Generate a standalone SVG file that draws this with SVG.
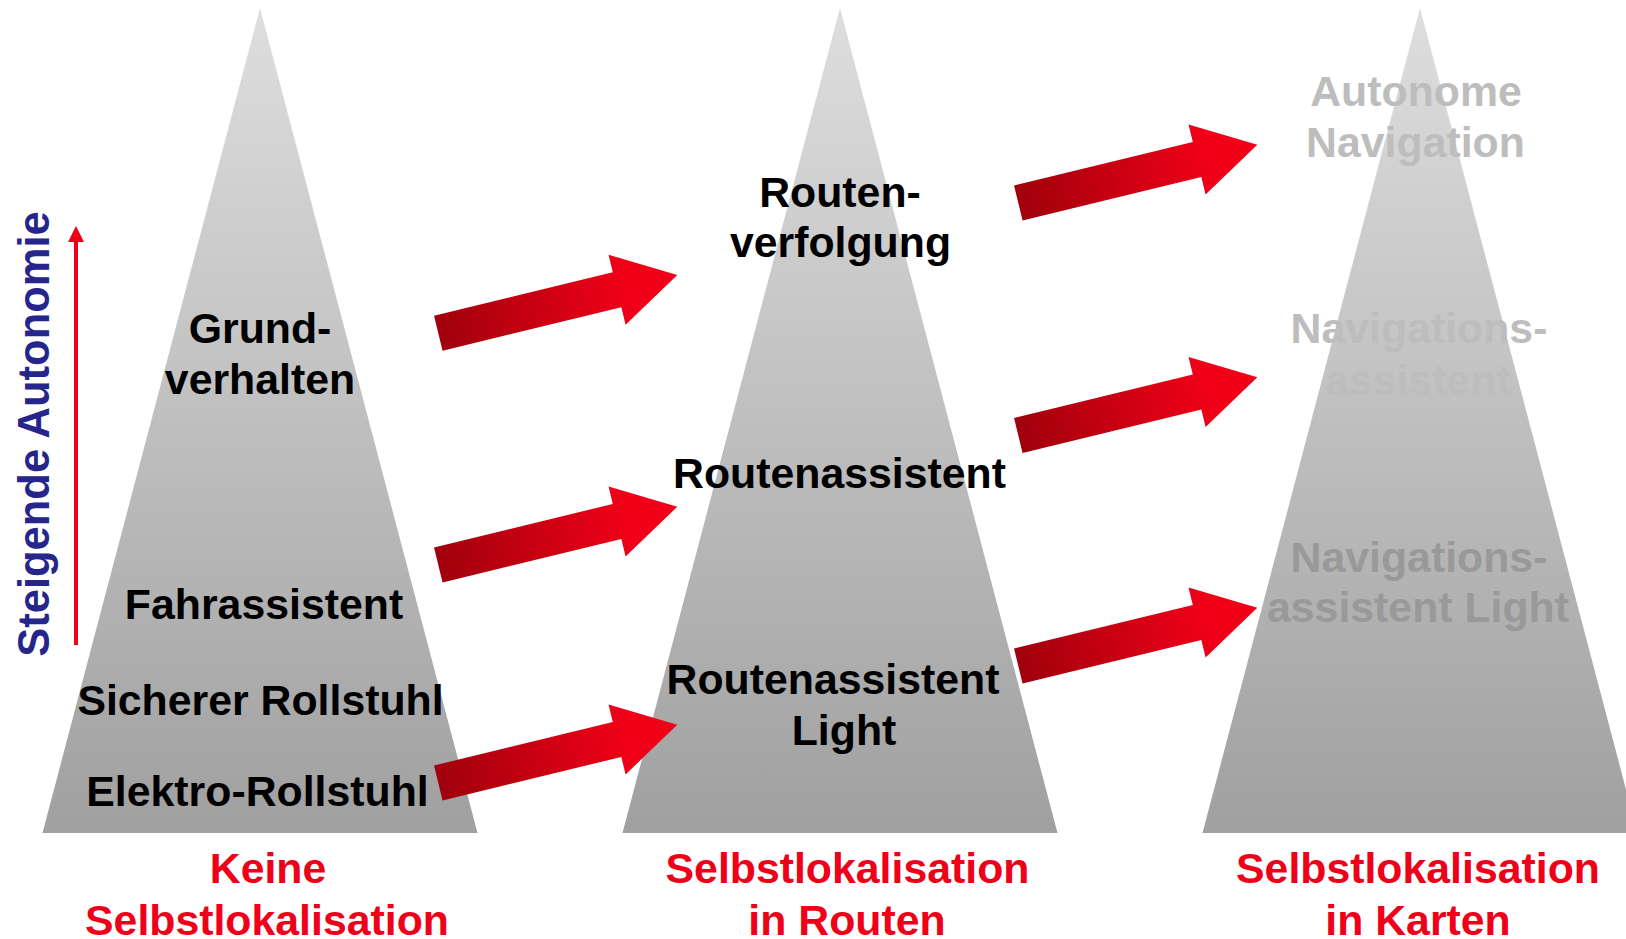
<svg xmlns="http://www.w3.org/2000/svg" width="1626" height="939" viewBox="0 0 1626 939">
  <defs>
    <linearGradient id="pyramidFill" x1="0" y1="0" x2="0" y2="1">
      <stop offset="0" stop-color="#dedede"/>
      <stop offset="1" stop-color="#a0a0a0"/>
    </linearGradient>
    <linearGradient id="arrowFill" gradientUnits="userSpaceOnUse" x1="0" y1="0" x2="200" y2="0">
      <stop offset="0" stop-color="#a0000c"/>
      <stop offset="1" stop-color="#f20018"/>
    </linearGradient>
    <!-- block arrow: tail centre at origin, pointing along +x -->
    <path id="blockArrow" d="M0,-18 H184 V-36 L246,0 L184,36 V18 H0 Z"/>
  </defs>
  <style>
    .pyr { fill: url(#pyramidFill); }
    .lbl { font-family: "Liberation Sans", Arial, sans-serif; font-weight: bold; font-size: 42.8px; text-anchor: middle; fill: #000; }
    .foot { fill: #f00018; }
    .future { fill: #bdbdbd; }
    .futureDark { fill: #999999; }
    .axisText { font-family: "Liberation Sans", Arial, sans-serif; font-weight: bold; font-size: 43.5px; text-anchor: middle; fill: #25258c; }
    .arrow { fill: url(#arrowFill); }
  </style>
  <rect width="1626" height="939" fill="#ffffff"/>

  <!-- autonomy axis -->
  <g id="axis">
    <line x1="76" y1="645" x2="76" y2="240" stroke="#f00018" stroke-width="4"/>
    <polygon points="76,226 84,242 68,242" fill="#f00018"/>
    <text class="axisText" transform="translate(49,434) rotate(-90)">Steigende Autonomie</text>
  </g>

  <!-- pyramid 1: no self-localisation -->
  <g id="pyramid-keine">
    <polygon class="pyr" points="260,8 477.5,833 42.5,833"/>
  </g>
  <!-- pyramid 2: localisation along routes -->
  <g id="pyramid-routen">
    <polygon class="pyr" points="840,8 1057.5,833 622.5,833"/>
  </g>
  <!-- pyramid 3: localisation in maps -->
  <g id="pyramid-karten">
    <polygon class="pyr" points="1420,8 1637.5,833 1202.5,833"/>
  </g>

  <!-- transition arrows -->
  <g id="connectors">
    <use href="#blockArrow" class="arrow" transform="translate(438.3,333.3) rotate(-13.7)"/>
    <use href="#blockArrow" class="arrow" transform="translate(438.3,565) rotate(-13.7)"/>
    <use href="#blockArrow" class="arrow" transform="translate(438.3,783) rotate(-13.7)"/>
    <use href="#blockArrow" class="arrow" transform="translate(1018.3,203) rotate(-13.7)"/>
    <use href="#blockArrow" class="arrow" transform="translate(1018.3,435.5) rotate(-13.7)"/>
    <use href="#blockArrow" class="arrow" transform="translate(1018.3,666) rotate(-13.7)"/>
  </g>

  <!-- level labels, pyramid 1 -->
  <g id="labels-keine">
    <text class="lbl" x="260" y="343">Grund-</text>
    <text class="lbl" x="260" y="394">verhalten</text>
    <text class="lbl" x="264" y="619">Fahrassistent</text>
    <text class="lbl" x="260.5" y="715">Sicherer Rollstuhl</text>
    <text class="lbl" x="257.5" y="806">Elektro-Rollstuhl</text>
    <text class="lbl foot" x="268" y="883">Keine</text>
    <text class="lbl foot" x="267" y="935">Selbstlokalisation</text>
  </g>

  <!-- level labels, pyramid 2 -->
  <g id="labels-routen">
    <text class="lbl" x="840" y="207">Routen-</text>
    <text class="lbl" x="840.5" y="257">verfolgung</text>
    <text class="lbl" x="839.5" y="488">Routenassistent</text>
    <text class="lbl" x="833" y="694">Routenassistent</text>
    <text class="lbl" x="844" y="745">Light</text>
    <text class="lbl foot" x="847.5" y="883">Selbstlokalisation</text>
    <text class="lbl foot" x="847" y="935">in Routen</text>
  </g>

  <!-- level labels, pyramid 3 -->
  <g id="labels-karten">
    <text class="lbl future" x="1416" y="106">Autonome</text>
    <text class="lbl future" x="1415.5" y="157">Navigation</text>
    <text class="lbl future" x="1419" y="343">Navigations-</text>
    <text class="lbl future" x="1418" y="395">assistent</text>
    <text class="lbl futureDark" x="1419" y="572">Navigations-</text>
    <text class="lbl futureDark" x="1418" y="622">assistent Light</text>
    <text class="lbl foot" x="1418" y="883">Selbstlokalisation</text>
    <text class="lbl foot" x="1418" y="935">in Karten</text>
  </g>
</svg>
